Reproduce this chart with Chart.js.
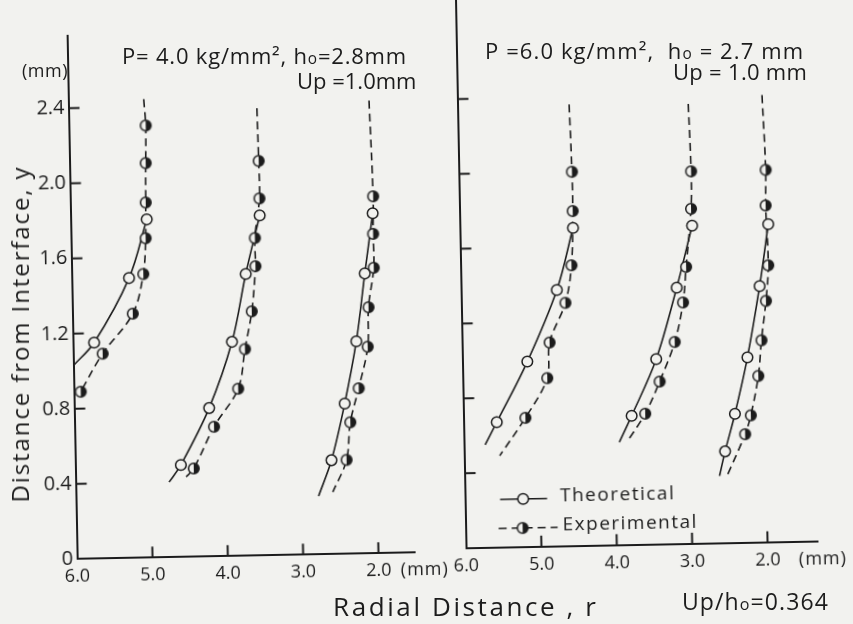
<!DOCTYPE html>
<html>
<head>
<meta charset="utf-8">
<script src="https://cdn.jsdelivr.net/npm/chart.js@4.4.1/dist/chart.umd.min.js"></script>
<style>
  html, body { margin: 0; padding: 0; background: #f2f2ef; }
  #page { position: relative; width: 853px; height: 624px; overflow: hidden; font-family: "Open Sans", sans-serif; color: #1c1c1c; }
  #tilt { position: absolute; left: 0; top: 0; width: 853px; height: 624px; transform: rotate(-1.1deg); transform-origin: 426.5px 312px; }
  canvas { position: absolute; }
  .t { position: absolute; white-space: nowrap; line-height: 1; }
  .o { font-size: 0.7em; }
</style>
</head>
<body>
<div id="page">
  <div id="tilt">
    <canvas id="right" width="433" height="634" style="left:420px;top:-10px"></canvas>
    <canvas id="left" width="460" height="600" style="left:0;top:0"></canvas>
  </div>

  <div class="t" style="left:122px;top:44px;font-size:22px;letter-spacing:0.8px">P= 4.0 kg/mm², h<span class="o">o</span>=2.8mm</div>
  <div class="t" style="left:297px;top:69px;font-size:22px">Up =1.0mm</div>
  <div class="t" style="left:22px;top:61px;font-size:18px;letter-spacing:0.5px">(mm)</div>
  <div class="t" style="left:485px;top:39px;font-size:22px;letter-spacing:1.1px">P =6.0 kg/mm², &nbsp;h<span class="o">o</span> = 2.7 mm</div>
  <div class="t" style="left:673px;top:60px;font-size:22px;letter-spacing:0.3px">Up = 1.0 mm</div>
  <div class="t" style="left:20px;top:334px;font-size:24px;letter-spacing:1.9px;transform:translate(-50%,-50%) rotate(-90deg)">Distance from Interface, y</div>
  <div class="t" style="left:333px;top:593px;font-size:26px;letter-spacing:2.6px">Radial Distance , r</div>
  <div class="t" style="left:682px;top:590px;font-size:23px;letter-spacing:1.1px">Up/h<span class="o">o</span>=0.364</div>
</div>

<script>
// ---- data (r in mm, y in mm) ----
const xTicks = [6.0, 5.0, 4.0, 3.0, 2.0];
const yTicks = [0, 0.4, 0.8, 1.2, 1.6, 2.0, 2.4];

// P = 4.0 kg/mm², h0 = 2.8 mm
const leftTheo1 = [[4.99, 1.80], [5.24, 1.49], [5.72, 1.15]];
const leftTheo1Tail = [[6.00, 1.03]];
const leftExp1 = [[4.98, 2.30], [4.99, 2.10], [5.00, 1.89], [5.01, 1.70], [5.05, 1.51], [5.20, 1.30], [5.61, 1.09], [5.91, 0.89]];
const leftExp1Ends = [[5.00, 2.44]];

const leftTheo2 = [[3.49, 1.81], [3.69, 1.50], [3.89, 1.14], [4.21, 0.79], [4.60, 0.49]];
const leftTheo2Tail = [[4.76, 0.40]];
const leftExp2 = [[3.49, 2.10], [3.49, 1.90], [3.56, 1.69], [3.56, 1.54], [3.62, 1.30], [3.72, 1.10], [3.82, 0.89], [4.15, 0.69], [4.43, 0.47]];
const leftExp2Ends = [[3.50, 2.38], [4.55, 0.42]];

const leftTheo3 = [[1.99, 1.81], [2.11, 1.49], [2.24, 1.13], [2.41, 0.80], [2.60, 0.50]];
const leftTheo3Tail = [[2.78, 0.31]];
const leftExp3 = [[1.98, 1.90], [1.99, 1.70], [1.99, 1.52], [2.07, 1.31], [2.09, 1.10], [2.22, 0.88], [2.34, 0.70], [2.40, 0.50]];
const leftExp3Ends = [[2.01, 2.41], [2.59, 0.33]];

// P = 6.0 kg/mm², h0 = 2.7 mm
const rightTheo1 = [[4.50, 1.70], [4.73, 1.37], [5.14, 0.99], [5.56, 0.67]];
const rightTheo1Tail = [[5.72, 0.55]];
const rightExp1 = [[4.50, 2.00], [4.50, 1.79], [4.53, 1.50], [4.62, 1.30], [4.84, 1.09], [4.88, 0.90], [5.18, 0.69]];
const rightExp1Ends = [[4.52, 2.36], [5.53, 0.49]];

const rightTheo2 = [[2.92, 1.70], [3.14, 1.37], [3.43, 0.99], [3.77, 0.69]];
const rightTheo2Tail = [[3.94, 0.55]];
const rightExp2 = [[2.92, 1.99], [2.93, 1.79], [3.01, 1.48], [3.06, 1.29], [3.18, 1.08], [3.39, 0.87], [3.59, 0.70]];
const rightExp2Ends = [[2.94, 2.35], [3.84, 0.55]];

const rightTheo3 = [[1.91, 1.70], [2.04, 1.37], [2.22, 0.99], [2.40, 0.69], [2.54, 0.49]];
const rightTheo3Tail = [[2.62, 0.36]];
const rightExp3 = [[1.93, 1.99], [1.94, 1.80], [1.92, 1.48], [1.96, 1.29], [2.03, 1.08], [2.08, 0.89], [2.19, 0.68], [2.27, 0.58]];
const rightExp3Ends = [[1.96, 2.39], [2.53, 0.35]];

// ---- styling ----
const INK = '#1c1c1c';
const PAPER = '#f2f2ef';
const FONT = '"Open Sans", sans-serif';

// half-filled (right half black) marker for experimental points
const halfDot = (() => {
  const c = document.createElement('canvas');
  c.width = 14; c.height = 14;
  const g = c.getContext('2d');
  g.fillStyle = PAPER;
  g.beginPath(); g.arc(7, 7, 5.3, 0, Math.PI * 2); g.fill();
  g.fillStyle = INK;
  g.beginPath(); g.arc(7, 7, 5.3, -Math.PI / 2, Math.PI / 2); g.closePath(); g.fill();
  g.strokeStyle = INK; g.lineWidth = 1.5;
  g.beginPath(); g.arc(7, 7, 5.3, 0, Math.PI * 2); g.stroke();
  return c;
})();

const pts = a => a.map(([x, y]) => ({ x, y }));

function curveSets(theo, theoTail, exp, expEnds) {
  const expLine = [expEnds[0], ...exp];
  if (expEnds[1]) expLine.push(expEnds[1]);
  return [
    { data: pts(theo), showLine: false, pointStyle: 'circle', pointRadius: 5.3, borderWidth: 1.5,
      borderColor: INK, backgroundColor: PAPER, order: 0 },
    { data: pts(exp), showLine: false, pointStyle: halfDot, order: 0 },
    { data: pts([...theo, ...theoTail]), showLine: true, pointRadius: 0, borderColor: INK,
      borderWidth: 1.6, tension: 0.35, order: 1 },
    { data: pts(expLine), showLine: true, pointRadius: 0, borderColor: INK,
      borderWidth: 1.6, borderDash: [8, 5], tension: 0.35, order: 1 }
  ];
}

// inward ticks, "(mm)" after the 2.0 label, optional legend
const frame = {
  id: 'frame',
  afterDraw(chart, args, opts) {
    const { ctx, chartArea: a, scales: { x, y } } = chart;
    ctx.save();
    ctx.strokeStyle = INK; ctx.lineWidth = 2;
    xTicks.slice(1).forEach(v => {
      const px = x.getPixelForValue(v);
      ctx.beginPath(); ctx.moveTo(px, a.bottom); ctx.lineTo(px, a.bottom - 11); ctx.stroke();
    });
    yTicks.slice(1).forEach(v => {
      const py = y.getPixelForValue(v);
      ctx.beginPath(); ctx.moveTo(a.left, py); ctx.lineTo(a.left + 11, py); ctx.stroke();
    });
    ctx.fillStyle = INK;
    ctx.font = '18px ' + FONT;
    ctx.textBaseline = 'middle';
    if ('letterSpacing' in ctx) ctx.letterSpacing = '1px';
    ctx.fillText('(mm)', x.getPixelForValue(2.0) + opts.mm, a.bottom + 18);

    if (opts.legend) {
      const lx = a.left, by = a.bottom;
      ctx.lineWidth = 1.5;
      ctx.beginPath(); ctx.moveTo(lx + 35, by - 48); ctx.lineTo(lx + 82, by - 48); ctx.stroke();
      ctx.setLineDash([8, 5]);
      ctx.beginPath(); ctx.moveTo(lx + 33, by - 19); ctx.lineTo(lx + 92, by - 19); ctx.stroke();
      ctx.setLineDash([]);
      ctx.fillStyle = PAPER;
      ctx.beginPath(); ctx.arc(lx + 58, by - 48, 5.3, 0, Math.PI * 2); ctx.fill(); ctx.stroke();
      ctx.drawImage(halfDot, lx + 57 - 7, by - 19 - 7);
      ctx.fillStyle = INK;
      ctx.font = '19px ' + FONT;
      if ('letterSpacing' in ctx) ctx.letterSpacing = '1.5px';
      ctx.fillText('Theoretical', lx + 95, by - 50);
      ctx.fillText('Experimental', lx + 97, by - 21);
    }
    ctx.restore();
  }
};

function panelOptions(cfg) {
  return {
    animation: false,
    responsive: false,
    layout: { padding: { top: cfg.top, right: cfg.right, left: 0, bottom: 0 } },
    plugins: { legend: { display: false }, tooltip: { enabled: false }, frame: cfg.frame },
    scales: {
      x: {
        type: 'linear', reverse: true, min: cfg.xMin, max: 6.0,
        grid: { display: false, drawTicks: false },
        border: { display: true, color: INK, width: 2 },
        afterBuildTicks: s => { s.ticks = xTicks.map(v => ({ value: v })); },
        afterFit: s => { s.height = cfg.xH; },
        ticks: { color: INK, font: { family: FONT, size: 18 }, padding: 7, maxRotation: 0,
          callback: v => v.toFixed(1) }
      },
      y: {
        type: 'linear', min: 0, max: cfg.yMax,
        grid: { display: false, drawTicks: false },
        border: { display: true, color: INK, width: 2 },
        afterBuildTicks: s => { s.ticks = yTicks.map(v => ({ value: v })); },
        afterFit: s => { s.width = cfg.yW; },
        ticks: { display: cfg.yLabels, color: INK, font: { family: FONT, size: 20 }, padding: 4,
          callback: v => (v === 0 ? '0' : v.toFixed(1)) }
      }
    }
  };
}

new Chart(document.getElementById('left'), {
  type: 'scatter',
  data: {
    datasets: [
      ...curveSets(leftTheo1, leftTheo1Tail, leftExp1, leftExp1Ends),
      ...curveSets(leftTheo2, leftTheo2Tail, leftExp2, leftExp2Ends),
      ...curveSets(leftTheo3, leftTheo3Tail, leftExp3, leftExp3Ends)
    ]
  },
  options: panelOptions({ top: 29, right: 50, xMin: 1.52, yMax: 2.785, xH: 47.7, yW: 72.5,
    yLabels: true, frame: { mm: 22, legend: false } }),
  plugins: [frame]
});

new Chart(document.getElementById('right'), {
  type: 'scatter',
  data: {
    datasets: [
      ...curveSets(rightTheo1, rightTheo1Tail, rightExp1, rightExp1Ends),
      ...curveSets(rightTheo2, rightTheo2Tail, rightExp2, rightExp2Ends),
      ...curveSets(rightTheo3, rightTheo3Tail, rightExp3, rightExp3Ends)
    ]
  },
  options: panelOptions({ top: 5.7, right: 39.4, xMin: 1.33, yMax: 2.95, xH: 75.2, yW: 41.5,
    yLabels: false, frame: { mm: 31, legend: true } }),
  plugins: [frame]
});
</script>
</body>
</html>
